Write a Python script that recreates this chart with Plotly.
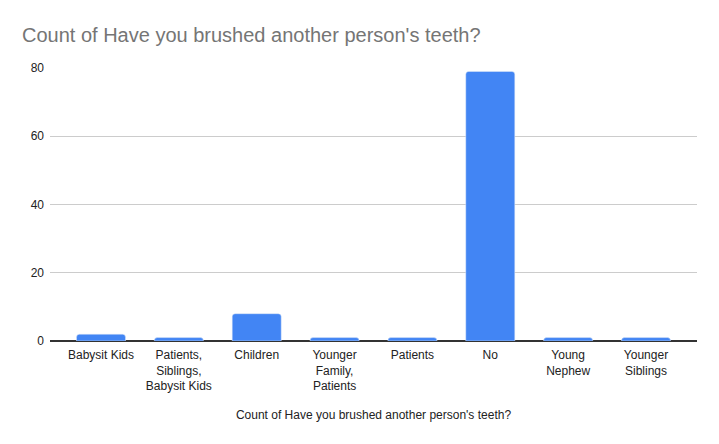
import plotly.graph_objects as go

categories = [
    "Babysit Kids",
    "Patients,<br>Siblings,<br>Babysit Kids",
    "Children",
    "Younger<br>Family,<br>Patients",
    "Patients",
    "No",
    "Young<br>Nephew",
    "Younger<br>Siblings",
]
counts = [2, 1, 8, 1, 1, 79, 1, 1]
y_ticks = [0, 20, 40, 60, 80]

title_text = "Count of Have you brushed another person's teeth?"

fig = go.Figure()

fig.add_trace(go.Bar(
    x=categories,
    y=counts,
    marker_color="#4285f4",
    width=0.63,
    hovertemplate="%{x}: %{y}<extra></extra>",
))

fig.update_layout(
    width=719,
    height=444,
    title=dict(
        text=title_text,
        x=14 / 719,
        xanchor="left",
        y=1 - 27 / 444,
        yanchor="middle",
        font=dict(family="Liberation Sans, Arial", size=20, color="#757575"),
    ),
    font=dict(family="Liberation Sans, Arial", size=12, color="#222222"),
    plot_bgcolor="white",
    paper_bgcolor="white",
    margin=dict(l=42, r=30, t=60, b=111),
    barcornerradius=3,
    showlegend=False,
)

# a little padding either side of the category bands, like the sheets chart
pad = 0.155
fig.update_xaxes(
    range=[-0.5 - pad, len(categories) - 0.5 + pad],
    title=dict(text=title_text, standoff=18, font=dict(size=12, color="#222222")),
    showgrid=False,
    ticks="",
    showline=False,
    ticklabelstandoff=5,
    tickfont=dict(size=12, color="#222222"),
)

fig.update_yaxes(
    range=[0, 80],
    tickvals=y_ticks,
    gridcolor="#cccccc",
    gridwidth=1,
    zeroline=True,
    zerolinecolor="#333333",
    zerolinewidth=1.5,
    ticks="",
    ticklabelstandoff=5,
    tickfont=dict(size=12, color="#222222"),
)

fig.write_html("out.html")
